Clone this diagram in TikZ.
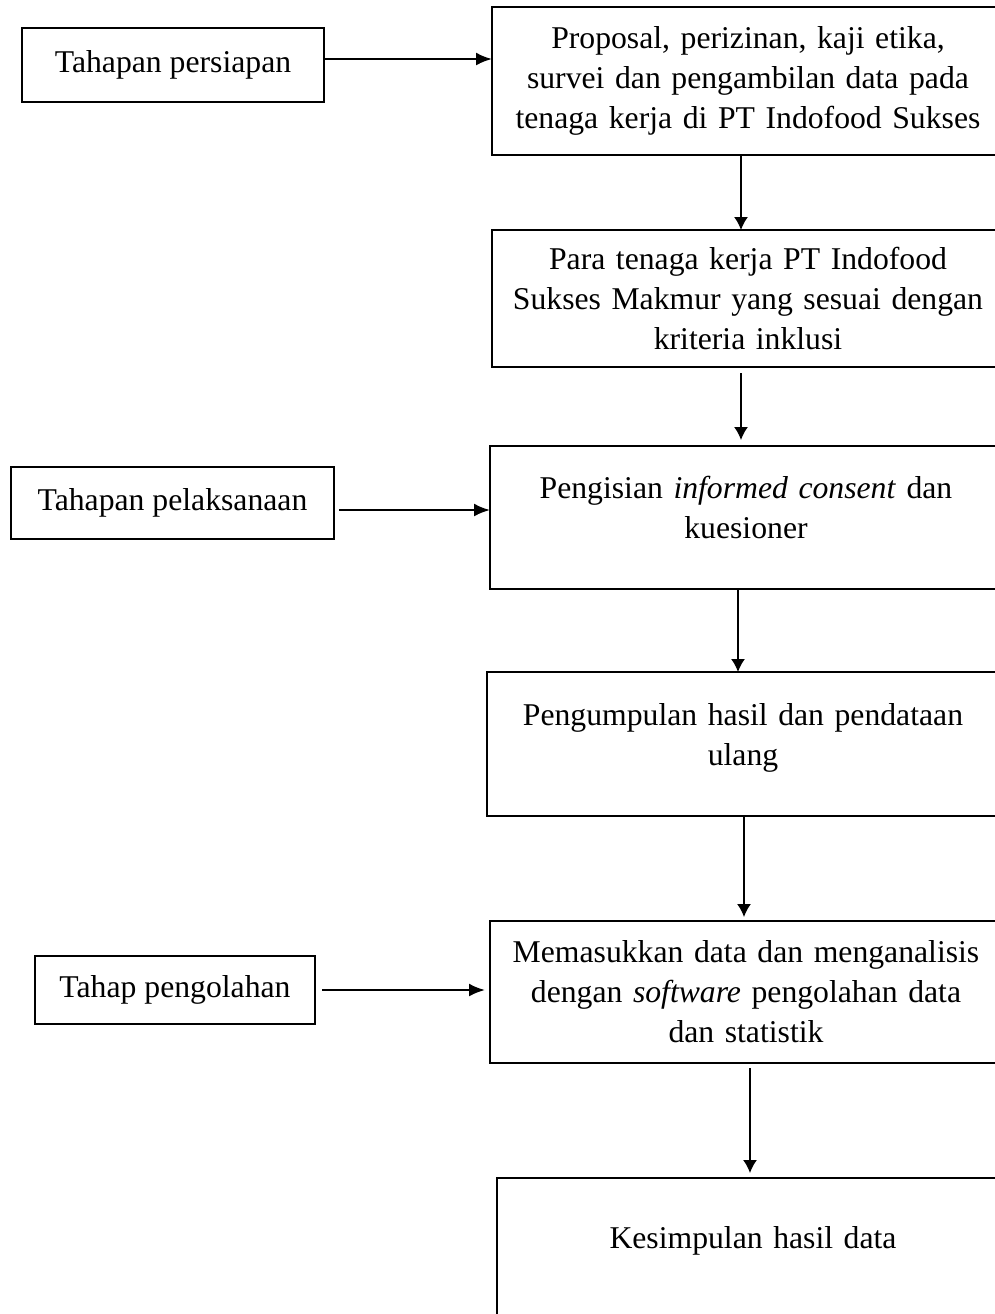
\documentclass[tikz,border=0pt]{standalone}
\usepackage{fontspec}
\setmainfont{Liberation Serif}
\usetikzlibrary{arrows.meta,positioning}
\tikzset{
  basic/.style   = {draw, line width=0.85pt, outer sep=0pt, rectangle, align=center,
                    font=\fontsize{15.85}{20}\selectfont},
  stage/.style   = {basic, inner sep=2pt},
  process/.style = {basic, text width=248pt, inner xsep=4pt, inner ysep=4pt},
  hline/.style   = {-{Latex[length=8pt,width=6.5pt]}, line width=1.1pt},
  vline/.style   = {-{Latex[length=6.5pt,width=7pt]}, line width=0.8pt}
}
\begin{document}
\begin{tikzpicture}
  \useasboundingbox (0,0) rectangle (497.5pt,-657pt);

  % right column, the process boxes one below the other
  \node[process, minimum height=74pt, anchor=north west] (r1) at (246pt,-3.5pt)
    {Proposal, perizinan, kaji etika,\\ survei dan pengambilan data pada\\ tenaga kerja di PT Indofood Sukses};
  \node[process, minimum height=68.5pt, below=37.5pt of r1] (r2)
    {Para tenaga kerja PT Indofood\\ Sukses Makmur yang sesuai dengan\\ kriteria inklusi};
  \node[process, minimum height=71.5pt, below=39.5pt of r2, xshift=-1pt] (r3)
    {Pengisian \textit{informed consent} dan\\ kuesioner\par\kern10pt};
  \node[process, minimum height=72pt, below=41.5pt of r3, xshift=-1.5pt] (r4)
    {Pengumpulan hasil dan pendataan\\ ulang\par\kern6pt};
  \node[process, minimum height=71pt, below=52.5pt of r4, xshift=1.5pt] (r5)
    {Memasukkan data dan menganalisis\\ dengan \textit{software} pengolahan data\\ dan statistik};
  \node[process, minimum height=72pt, below=57.5pt of r5, xshift=3.5pt] (r6)
    {Kesimpulan hasil data\par\kern9pt};

  % left column, the stages
  \node[stage, minimum width=151pt, minimum height=37pt, left=84pt of r1, yshift=8pt] (l1)
    {Tahapan persiapan};
  \node[stage, minimum width=161.5pt, minimum height=36pt, left=78pt of r3, yshift=7.25pt] (l2)
    {Tahapan pelaksanaan};
  \node[stage, minimum width=140pt, minimum height=34pt, left=87.5pt of r5, yshift=1pt] (l3)
    {Tahap pengolahan};

  % arrows from each stage to its process box
  \draw[hline] ([yshift=3pt]l1.east) -- ([yshift=11pt]r1.west);
  \draw[hline] ([xshift=2.5pt,yshift=-3.5pt]l2.east) -- ([yshift=3.75pt]r3.west);
  \draw[hline] ([xshift=3.5pt]l3.east) -- ([xshift=-2.5pt,yshift=1pt]r5.west);

  % arrows down the right column
  \draw[vline] ([xshift=-3.5pt]r1.south) -- ([xshift=-3.5pt]r2.north);
  \draw[vline] ([xshift=-3.5pt,yshift=-3pt]r2.south) -- ([xshift=-2.5pt,yshift=3pt]r3.north);
  \draw[vline] ([xshift=-4pt]r3.south) -- ([xshift=-2.5pt]r4.north);
  \draw[vline] ([xshift=0.5pt]r4.south) -- ([xshift=-1pt,yshift=2pt]r5.north);
  \draw[vline] ([xshift=2pt,yshift=-2.5pt]r5.south) -- ([xshift=-1.5pt,yshift=2.5pt]r6.north);
\end{tikzpicture}
\end{document}
